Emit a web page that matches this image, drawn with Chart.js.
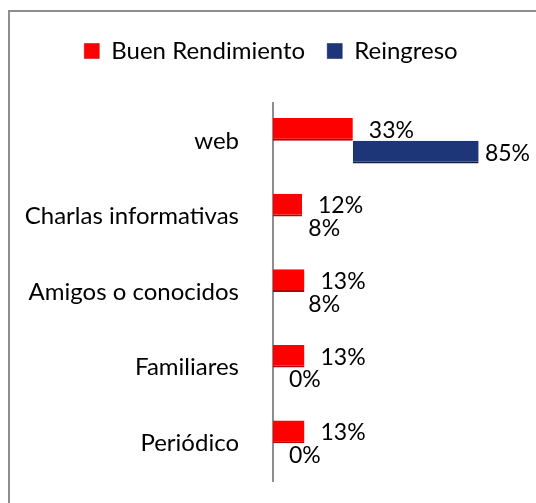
<!DOCTYPE html>
<html>
<head>
<meta charset="utf-8">
<script src="https://cdn.jsdelivr.net/npm/chart.js@4.4.0/dist/chart.umd.min.js"></script>
<style>
  body { margin: 0; background: #fff; }
  #wrap { position: relative; width: 536px; height: 503px; overflow: hidden; }
  #frame { position: absolute; left: 8px; top: 10px; width: 600px; height: 600px;
           border-left: 2px solid #8e8e8e; border-top: 2px solid #8e8e8e; }
  canvas { position: absolute; left: 0; top: 0; }
</style>
</head>
<body>
<div id="wrap">
  <div id="frame"></div>
  <canvas id="myBarChart" width="536" height="503"></canvas>
</div>
<script>
var categories = ["web", "Charlas informativas", "Amigos o conocidos", "Familiares", "Periódico"];
var buenRendimiento = [33, 12, 13, 13, 13];
var reingreso = [85, 8, 8, 0, 0];

var FONT = "Lato, 'Open Sans', sans-serif";
var FSIZE = 24;
var LABEL_SIZE = 23;

// the blue bars start where the red bar ends (as drawn in the original)
var reingresoBars = reingreso.map(function (v, i) {
    return [Math.min(buenRendimiento[i], v), v];
});

var barLabels = {
    id: 'barLabels',
    afterDatasetsDraw: function (chart) {
        var ctx = chart.ctx;
        var values = [buenRendimiento, reingreso];
        ctx.save();
        ctx.font = LABEL_SIZE + 'px ' + FONT;
        ctx.fillStyle = '#000';
        ctx.textBaseline = 'middle';
        ctx.textAlign = 'left';
        chart.data.datasets.forEach(function (ds, d) {
            chart.getDatasetMeta(d).data.forEach(function (bar, i) {
                var txt = values[d][i] + '%';
                var w = ctx.measureText(txt).width;
                var x = Math.min(bar.x + 16, chart.width - w - 6);
                ctx.fillText(txt, x, bar.y + 1);
            });
        });
        ctx.restore();
    }
};

// extra room between the legend and the plot
var legendGap = {
    id: 'legendGap',
    beforeInit: function (chart) {
        var fit = chart.legend.fit;
        chart.legend.fit = function () {
            fit.bind(chart.legend)();
            this.height += 30;
        };
    }
};

var ctx = document.getElementById("myBarChart");

new Chart(ctx, {
    type: 'bar',
    data: {
        labels: categories,
        datasets: [{
            label: "Buen Rendimiento",
            backgroundColor: "#ff0000",
            borderColor: "#b80000",
            borderWidth: { top: 0, right: 0, bottom: 2, left: 0 },
            borderSkipped: false,
            data: buenRendimiento
        }, {
            label: "Reingreso",
            backgroundColor: "#1d3677",
            borderColor: "#0f1f4a",
            borderWidth: { top: 0, right: 0, bottom: 2, left: 0 },
            borderSkipped: false,
            data: reingresoBars
        }]
    },
    options: {
        indexAxis: 'y',
        responsive: false,
        animation: false,
        categoryPercentage: 0.6,
        barPercentage: 1,
        layout: {
            padding: { left: 6, right: 0, top: 17, bottom: 22 }
        },
        plugins: {
            legend: {
                position: 'top',
                labels: {
                    font: { family: FONT, size: FSIZE },
                    color: '#000',
                    boxWidth: 15,
                    boxHeight: 15,
                    padding: 22
                }
            },
            tooltip: { enabled: true }
        },
        scales: {
            x: {
                display: false,
                min: 0,
                max: 108.7
            },
            y: {
                afterFit: function (scale) {
                    scale.width = 267;
                    scale.paddingTop = 0;
                    scale.paddingBottom = 0;
                },
                grid: { display: false },
                border: { display: true, color: '#8e8e8e', width: 2 },
                ticks: {
                    color: '#000',
                    padding: 26,
                    font: { family: FONT, size: FSIZE }
                }
            }
        }
    },
    plugins: [barLabels, legendGap]
});
</script>
</body>
</html>
